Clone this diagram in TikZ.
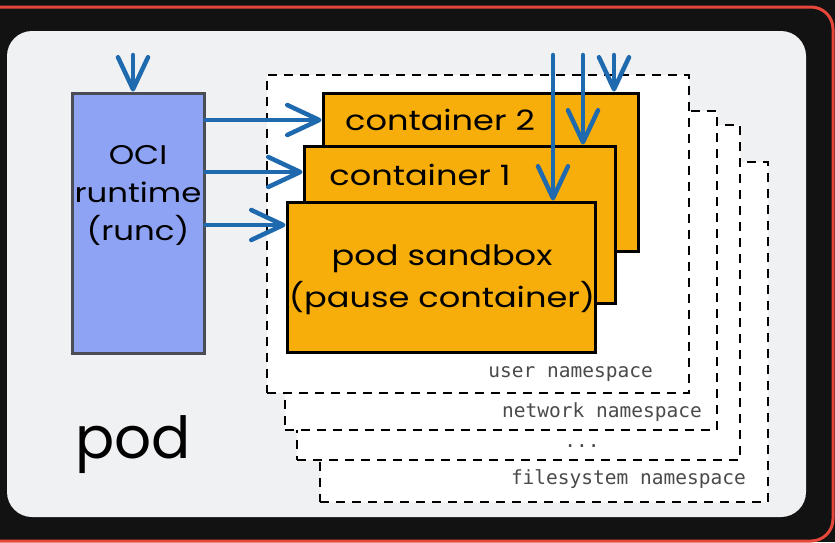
\documentclass[tikz,border=0pt]{standalone}
\usepackage{fontspec}
\setmainfont{Poppins}
\newfontfamily\handfont[FakeStretch=1.2]{Poppins}
\newfontfamily\monofont{DejaVu Sans Mono}
\usetikzlibrary{arrows.meta,fit}
\definecolor{bgc}{HTML}{121212}
\definecolor{redc}{HTML}{E5483B}
\definecolor{panelc}{HTML}{F0F1F3}
\definecolor{bluec}{HTML}{1F6AAE}
\definecolor{orangec}{HTML}{F7AE0B}
\definecolor{ocic}{HTML}{8FA3F4}
\definecolor{ocib}{HTML}{4A4D55}
\definecolor{labelc}{HTML}{4A4A4A}
\tikzset{
  nsbox/.style={draw=black, fill=white, dash pattern=on 9pt off 7pt, line width=2pt, inner sep=0pt},
  nslabel/.style={font=\monofont\fontsize{19.5}{21}\selectfont, text=labelc, inner sep=0pt, anchor=east},
  ctbox/.style={draw=black, fill=orangec, line width=3pt, inner sep=0pt},
  hand/.style={font=\handfont\fontsize{28}{42}\selectfont, text=black, inner sep=0pt, align=center},
  arr/.style={draw=bluec, line width=4.5pt, line cap=round, -{Straight Barb[length=32pt,width=30pt,line cap=round,line join=round]}}
}
\begin{document}
\begin{tikzpicture}[x=1pt,y=-1pt]
\useasboundingbox (0,0) rectangle (835,542);
\fill[bgc] (0,0) rectangle (835,542);
\draw[redc, line width=3pt, rounded corners=22pt] (-30,7) rectangle (833,541);
\fill[panelc, rounded corners=25pt] (7,31) rectangle (806,517);

% namespaces, back to front
\node[nsbox, fit={(320,162) (768,502)}] (fsns) {};
\node[nslabel] (fslab) at (746,479) {filesystem namespace};
\node[nsbox, fit={(297,125) (740,460)}] (dotns) {};
\node[nslabel, anchor=center] (dotlab) at (582,446) {...};
\node[nsbox, fit={(285,111) (717,430)}] (netns) {};
\node[nslabel] (netlab) at (702,412) {network namespace};
\node[nsbox, fit={(267,75) (689,393)}] (userns) {};
\node[nslabel] (userlab) at (653,374) {user namespace};

% containers
\node[ctbox, fit={(323,93) (638,251)}] (c2) {};
\node[hand] (c2t) at (440,120) {container 2};
\node[ctbox, fit={(304,146) (615,303)}] (c1) {};
\node[hand] (c1t) at (420,175) {container 1};
\node[ctbox, fit={(287,202) (595,352)}] (sb) {};
\node[hand] (sbt) at (442,280) {pod sandbox\\(pause container)};

% OCI runtime
\node[draw=ocib, fill=ocic, line width=3pt, inner sep=0pt, fit={(72,93) (204,353)}] (oci) {};
\node[hand, font=\handfont\fontsize{27}{38}\selectfont] (ocit) at (138,195) {OCI\\runtime\\(runc)};

\node[font=\fontsize{58}{60}\selectfont, inner sep=0pt] (pod) at (133,445) {pod};

% arrows
\coordinate (ocitop) at (133,55);
\draw[arr] (ocitop) -- (ocitop |- oci.north);
\draw[arr] (oci.east |- 0,120) -- (c2.west |- 0,120);
\draw[arr] (oci.east |- 0,172) -- (c1.west |- 0,172);
\draw[arr] (oci.east |- 0,225) -- (sb.west |- 0,225);
\coordinate (t1) at (553,55);
\coordinate (t2) at (583,55);
\coordinate (t3) at (614,55);
\draw[arr] (t1) -- (t1 |- sb.north);
\draw[arr] (t2) -- (t2 |- c1.north);
\draw[arr] (t3) -- (t3 |- c2.north);
\end{tikzpicture}
\end{document}
